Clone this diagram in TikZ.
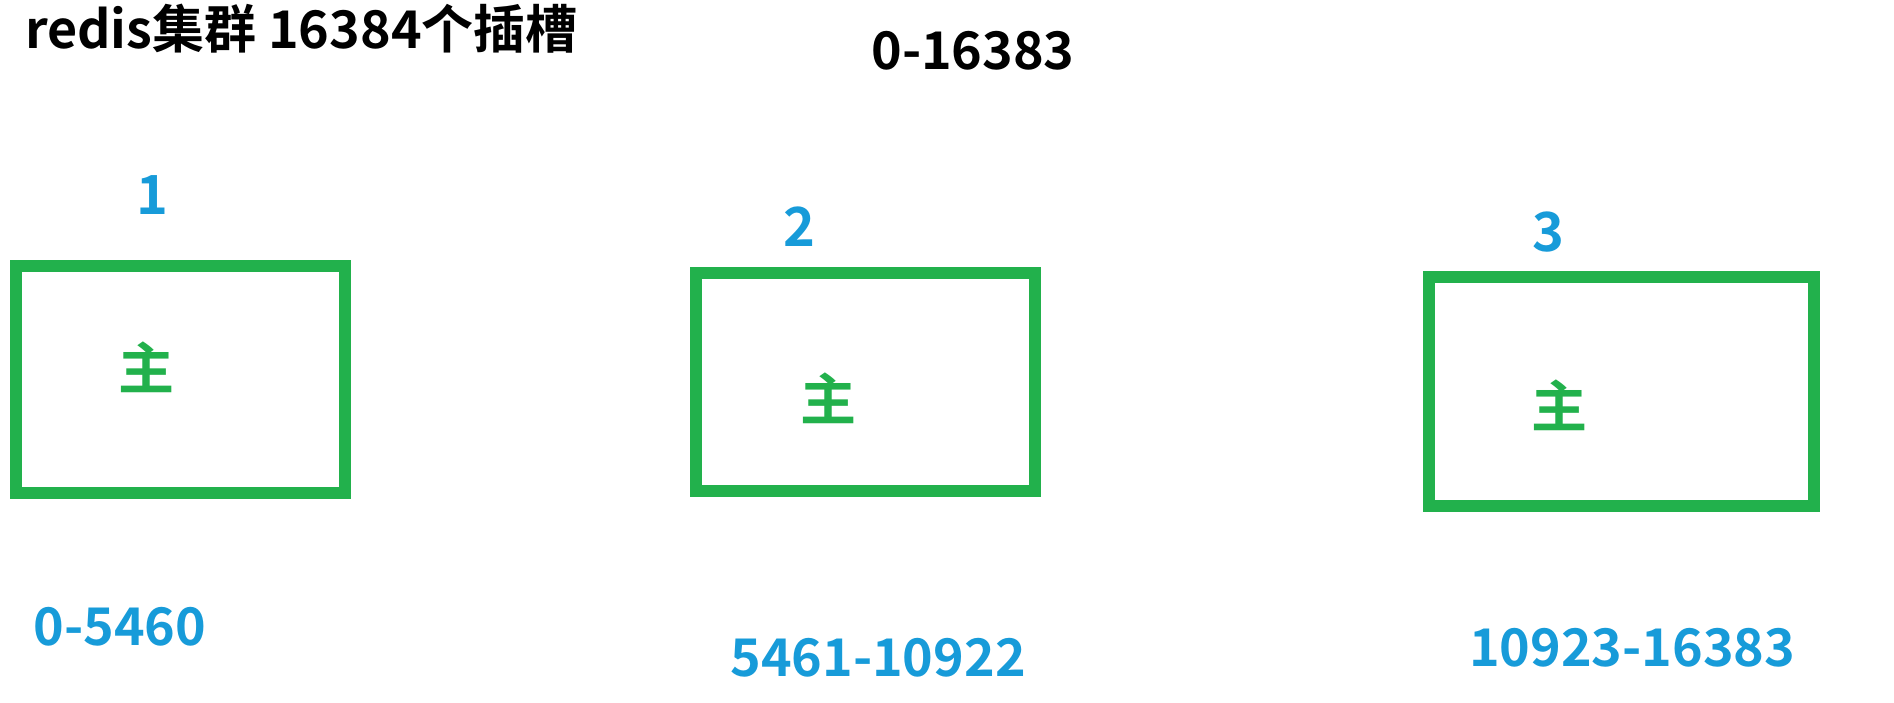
\documentclass[tikz,border=0pt]{standalone}
\usepackage{fontspec}
\setmainfont{Noto Sans CJK SC}[BoldFont={Noto Sans CJK SC Bold}]
\newfontfamily\condfont{Noto Sans CJK SC Bold}
\newfontfamily\cjkfont{Noto Sans CJK SC Bold}
\definecolor{pgreen}{RGB}{34,177,76}
\definecolor{pblue}{RGB}{23,155,217}
\tikzset{
  slotbox/.style={draw=pgreen, line width=12pt, rectangle, inner sep=0pt},
  master/.style={text=pgreen, inner sep=0pt, font=\cjkfont\fontsize{56}{60}\selectfont},
  nodenum/.style={text=pblue, inner sep=0pt, font=\condfont\fontsize{54}{60}\selectfont},
  slotrange/.style={text=pblue, inner sep=0pt, font=\condfont\fontsize{52}{60}\selectfont},
  titletext/.style={text=black, inner sep=0pt, font=\condfont\fontsize{52}{60}\selectfont}
}
\begin{document}
\begin{tikzpicture}[x=1pt,y=-1pt]
\useasboundingbox[fill=white] (0,0) rectangle (1894,702);
\node[titletext, anchor=base west] (title) at (25,48) {redis集群 16384个插槽};
\node[titletext] (total) at (973,51) {0-16383};

\node[slotbox, minimum width=329pt, minimum height=227pt] (b1) at (180.5,379.5) {};
\node[slotbox, minimum width=339pt, minimum height=218pt] (b2) at (865.5,382) {};
\node[slotbox, minimum width=385pt, minimum height=229pt] (b3) at (1621.5,391.5) {};

\node[master] (m1) at (146,367) {主};
\node[master] (m2) at (828,398) {主};
\node[master] (m3) at (1559,405) {主};

\node[nodenum] (n1) at (152,195) {1};
\node[nodenum] (n2) at (799,227) {2};
\node[nodenum] (n3) at (1548,232) {3};

\node[slotrange] (r1) at (120,627) {0-5460};
\node[slotrange] (r2) at (878,658) {5461-10922};
\node[slotrange] (r3) at (1632,648) {10923-16383};
\end{tikzpicture}
\end{document}
